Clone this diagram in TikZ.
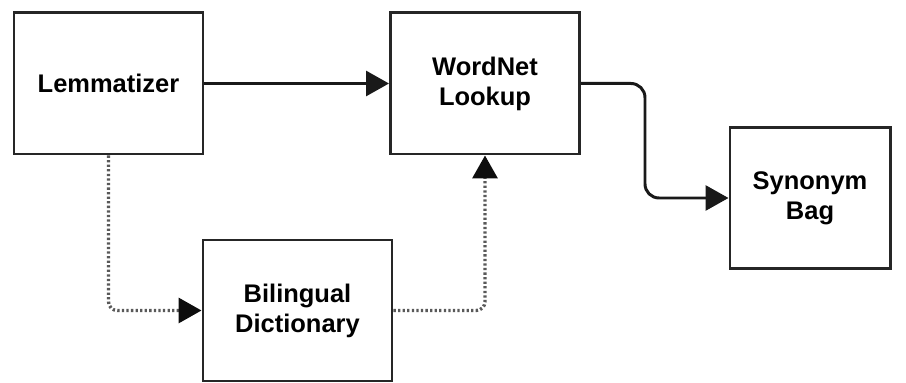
\documentclass[tikz,border=0pt]{standalone}
\usepackage{fontspec}
\setmainfont{Liberation Sans}
\usetikzlibrary{arrows.meta}

\tikzset{
  blk/.style={draw=black!85,line width=1.7pt,minimum width=3.78cm,minimum height=2.82cm,
    align=center,font=\fontsize{14.5}{17}\selectfont\bfseries,inner sep=0pt},
  flow/.style={draw=black!90,line width=1.7pt,-{Triangle[length=0.46cm,width=0.5cm]}},
  dots/.style={draw=black!65,line width=1.9pt,dash pattern=on 1.3pt off 1.3pt,
    -{Triangle[length=0.46cm,width=0.5cm,color=black!95]},rounded corners=5pt}
}

\begin{document}
\begin{tikzpicture}
  \useasboundingbox (0,0) rectangle (18.12,-7.66);
  \node[blk] (lem) at (2.17,-1.67) {Lemmatizer};
  \node[blk] (wn)  at (9.70,-1.67) {WordNet\\Lookup};
  \node[blk,minimum width=3.2cm] (syn) at (16.2,-3.96) {Synonym\\Bag};
  \node[blk] (bil) at (5.95,-6.21) {Bilingual\\Dictionary};
  \coordinate (bend) at (12.9,-2.5);
  \draw[flow] (lem.east) -- (wn.west);
  \draw[flow,rounded corners=8pt] (wn.east) -| (bend |- syn.west) -- (syn.west);
  \draw[dots] (lem.south) |- (bil.west);
  \draw[dots] (bil.east) -| (wn.south);
\end{tikzpicture}
\end{document}
